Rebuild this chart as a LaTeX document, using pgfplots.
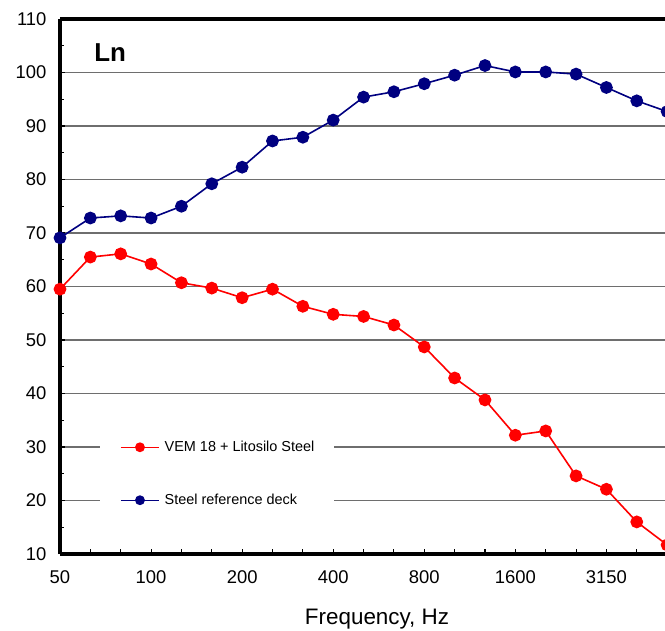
\documentclass[border=0pt]{standalone}
\usepackage{pgfplots}
\pgfplotsset{compat=1.18}
\usepackage{fontspec}
\setmainfont{Liberation Sans}
\definecolor{refblue}{RGB}{0,0,128}
\definecolor{vemred}{RGB}{255,0,0}
\definecolor{gridgray}{RGB}{110,110,110}

% Third-octave bands 50 Hz ... 5000 Hz plotted at positions 0..20
\pgfplotstableread{
idx  vem   steel
0    59.5  69.1
1    65.5  72.8
2    66.1  73.2
3    64.2  72.8
4    60.7  75.0
5    59.7  79.2
6    57.9  82.3
7    59.5  87.2
8    56.3  87.9
9    54.8  91.1
10   54.4  95.4
11   52.8  96.4
12   48.7  97.9
13   42.9  99.5
14   38.8  101.3
15   32.2  100.1
16   33.0  100.1
17   24.6  99.7
18   22.1  97.2
19   16.0  94.7
20   11.7  92.7
}\lndata

\begin{document}
\begin{tikzpicture}
\begin{axis}[
  width=605bp, height=535bp, scale only axis,
  xmin=0, xmax=19.93, ymin=10, ymax=110,
  axis x line*=box, axis y line*=left,
  axis line style={line width=3.6bp, black},
  clip=false,
  xtick={0,...,20},
  xticklabels={50,,,100,,,200,,,400,,,800,,,1600,,,3150,,},
  ytick={10,20,...,110},
  minor y tick num=1,
  xtick pos=lower, ytick pos=left,
  tick align=inside,
  major tick length=5bp, minor tick length=4.5bp,
  tick style={line width=1.1bp, black},
  ymajorgrids,
  major grid style={line width=1.3bp, gridgray},
  /pgf/number format/assume math mode=true,
  ticklabel style={font=\fontsize{18.5}{22}\selectfont},
  xticklabel style={yshift=-13bp},
  yticklabel style={xshift=-10bp},
  xlabel={Frequency, Hz},
  xlabel style={font=\fontsize{22.5}{26}\selectfont, at={(axis description cs:0.524,0)}, anchor=north, yshift=-52bp},
  legend style={draw=none, fill=white, at={(axis cs:1.32,25)}, anchor=west,
    inner xsep=20bp, inner ysep=12bp, row sep=41bp, column sep=5bp,
    font=\fontsize{14.5}{17}\selectfont,
    nodes={inner sep=0pt, anchor=west}},
  legend cell align=left,
  legend image code/.code={%
    \draw[mark repeat=2, mark phase=2, #1, mark size=4.2bp, line width=1.4bp]
      plot coordinates {(0bp,0bp) (19bp,0bp) (38bp,0bp)};},
]
\addplot[color=vemred, line width=1.6bp, mark=*, mark size=5.6bp,
  mark options={solid, fill=vemred}] table[x=idx, y=vem] {\lndata};
\addlegendentry{VEM 18 + Litosilo Steel}
\addplot[color=refblue, line width=1.6bp, mark=*, mark size=5.6bp,
  mark options={solid, fill=refblue}] table[x=idx, y=steel] {\lndata};
\addlegendentry{Steel reference deck}
\node[font=\bfseries\fontsize{26}{30}\selectfont] at (axis description cs:0.083,0.938) {Ln};
\end{axis}
\pgfresetboundingbox
\useasboundingbox (-60bp,-77bp) rectangle (605bp,554bp);
\end{tikzpicture}
\end{document}
